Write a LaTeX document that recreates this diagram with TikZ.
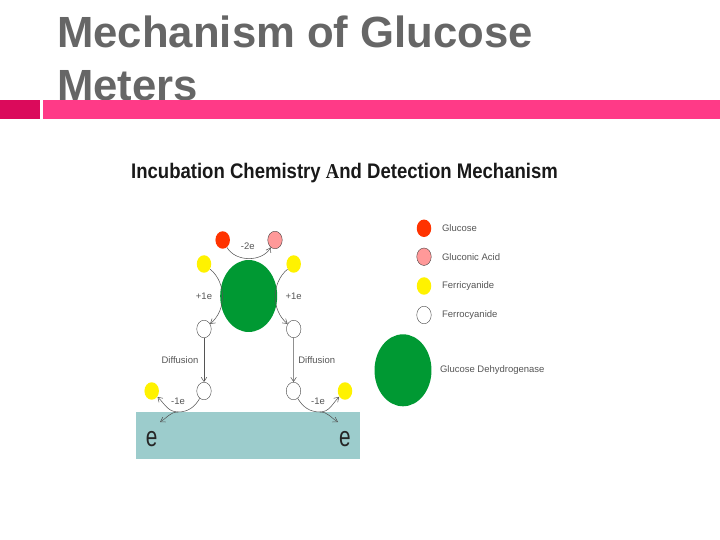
\documentclass[tikz,border=0pt]{standalone}
\usepackage{fontspec}
\setmainfont{Liberation Sans}
\newfontfamily\serifa{Liberation Serif}
\usetikzlibrary{shapes,arrows.meta,calc}
\definecolor{slidegrey}{HTML}{666666}
\definecolor{bardark}{HTML}{DB0A5B}
\definecolor{barpink}{HTML}{FF3A87}
\definecolor{enzyme}{HTML}{009933}
\definecolor{glucose}{HTML}{FF3300}
\definecolor{acid}{HTML}{FF9999}
\definecolor{ferri}{HTML}{FFF200}
\definecolor{electrode}{HTML}{9CCCCC}
\definecolor{inktext}{HTML}{555555}
\tikzset{
    semithick,
    state/.style ={ellipse, inner sep=0pt, minimum width = 0.29 cm, minimum height = 0.35 cm},
    gluc/.style={state, fill=glucose},
    gacid/.style={state, fill=acid, draw=black!80, very thin},
    fcy/.style={state, fill=ferri},
    fro/.style={state, fill=white, draw=black!80, very thin},
    gdh/.style={ellipse, inner sep=0pt, fill=enzyme, minimum width = 1.14 cm, minimum height = 1.44 cm},
    el/.style = {inner sep=0pt, text=inktext, font=\fontsize{5.4pt}{6pt}\selectfont},
    legend/.style = {el, anchor=west},
    bigE/.style = {inner sep=0pt, text=black!85, xscale=.74, font=\fontsize{16pt}{18pt}\selectfont},
    flow/.style={draw=inktext, line width=.3pt},
    tip/.style={-{Straight Barb[length=2.5pt,width=3.2pt]}}
}

\begin{document}
\begin{tikzpicture}[x=0.02cm,y=-0.02cm]
    \useasboundingbox (0,0) rectangle (720,540);
    % slide heading and bars
    \node[anchor=west, align=left, inner sep=0pt, text=slidegrey, font=\fontsize{24.85pt}{30.5pt}\selectfont\bfseries] (heading) at (57,58.5) {Mechanism of Glucose\\Meters};
    \fill[bardark] (0,100) rectangle (39.5,118.7);
    \fill[barpink] (43,100) rectangle (720,118.7);
    \node[inner sep=0pt, xscale=.88, text=black!90, font=\fontsize{12pt}{14pt}\selectfont\bfseries] (caption) at (344.5,173.5) {Incubation Chemistry {\serifa A}nd Detection Mechanism};

    % electrode
    \fill[electrode] (136,412) rectangle (359.5,458.7);
    \node[bigE] (el) at (151.7,439) {e};
    \node[bigE] (er) at (345,439) {e};
    \coordinate (tl) at (160,422);
    \coordinate (tr) at (338,422);
    \coordinate (jl) at (178,412);
    \coordinate (jr) at (320,412);

    % enzyme and species
    \node[gdh] (g) at (248.7,296) {};
    \node[gluc] (r) at (222.7,240) {};
    \node[gacid] (p) at (275,240) {};
    \node[fcy] (a) at (204,264) {};
    \node[fcy] (b) at (293.7,264) {};
    \node[fro] (c) at (204,329) {};
    \node[fro] (d) at (293.7,329) {};
    \node[fro] (e) at (204,391) {};
    \node[fro] (f) at (293.5,391) {};
    \node[fcy] (h) at (151.7,391) {};
    \node[fcy] (i) at (345,391) {};

    \path[flow] (r) edge[tip,bend right=60] (p);
    \path[flow] (a) edge[tip,bend left=50] (c);
    \path[flow] (b) edge[tip,bend right=50] (d);
    \path[flow] (c) edge[tip] (e);
    \path[flow] (d) edge[tip] (f);
    \path[flow] (e) edge[out=240,in=0] (jl);
    \path[flow] (f) edge[out=300,in=180] (jr);
    \path[flow] (jl) edge[tip,out=180,in=315] (h);
    \path[flow] (jr) edge[tip,out=0,in=225] (i);
    \path[flow] (jl) edge[tip,out=180,in=30] (tl);
    \path[flow] (jr) edge[tip,out=0,in=150] (tr);

    \node[el] (m2) at (247.7,246.5) {-2e};
    \node[el] (p1l) at (204,296.5) {+1e};
    \node[el] (p1r) at (293.7,296.5) {+1e};
    \node[el] (dl) at (180,360) {Diffusion};
    \node[el] (dr) at (316.7,360) {Diffusion};
    \node[el] (m1l) at (178,401) {-1e};
    \node[el] (m1r) at (318,401) {-1e};

    % legend
    \node[gluc] (k1) at (424,228.3) {};
    \node[gacid] (k2) at (424,256.7) {};
    \node[fcy] (k3) at (424,286) {};
    \node[fro] (k4) at (424,315) {};
    \node[gdh] (k5) at (403,370.3) {};
    \node[legend] (t1) at (441.7,228.3) {Glucose};
    \node[legend] (t2) at (441.7,256.7) {Gluconic Acid};
    \node[legend] (t3) at (441.7,286) {Ferricyanide};
    \node[legend] (t4) at (441.7,315) {Ferrocyanide};
    \node[legend] (t5) at (439.7,370) {Glucose Dehydrogenase};
\end{tikzpicture}
\end{document}
